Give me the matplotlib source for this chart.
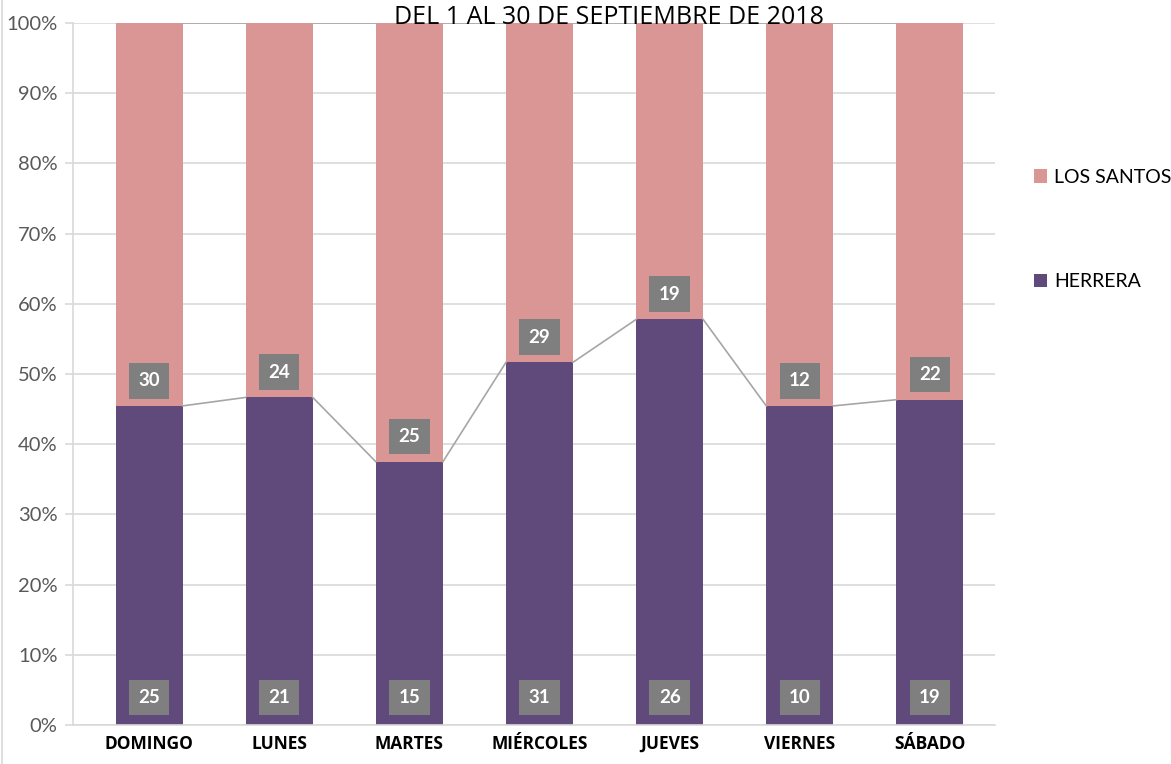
import numpy as np
import matplotlib.pyplot as plt
from matplotlib.patches import Patch

plt.rcParams['font.family'] = ['Lato', 'DejaVu Sans']

# Data
dias = ['DOMINGO', 'LUNES', 'MARTES', 'MIÉRCOLES', 'JUEVES', 'VIERNES', 'SÁBADO']
herrera = [25, 21, 15, 31, 26, 10, 19]
los_santos = [30, 24, 25, 29, 19, 12, 22]
title = 'DEL 1 AL 30 DE SEPTIEMBRE DE 2018'

col_herrera = '#604A7B'
col_santos = '#D99694'
col_label = '#7F7F7F'
col_grid = '#D9D9D9'
col_series = '#A6A6A6'

h = np.array(herrera, dtype=float)
s = np.array(los_santos, dtype=float)
tot = h + s
h_pct = h / tot * 100
s_pct = s / tot * 100

fig = plt.figure(figsize=(11.71, 7.64), dpi=100)
ax = fig.add_axes([73 / 1171, 1 - 725 / 764, (995 - 73) / 1171, (725 - 23) / 764])

x = np.arange(len(dias))
width = 0.515
ax.bar(x, h_pct, width, color=col_herrera, zorder=2)
ax.bar(x, s_pct, width, bottom=h_pct, color=col_santos, zorder=2)

# series lines between bar edges
for i in range(len(dias) - 1):
    ax.plot([x[i] + width / 2, x[i + 1] - width / 2], [h_pct[i], h_pct[i + 1]],
            color=col_series, lw=1.2, zorder=3)
    ax.plot([x[i] + width / 2, x[i + 1] - width / 2], [100, 100],
            color=col_series, lw=1.2, zorder=3)

# data labels
box = dict(boxstyle='square,pad=0.5', facecolor=col_label, edgecolor='none')
for i in range(len(dias)):
    ax.text(x[i], 3.9, str(herrera[i]), ha='center', va='center', color='white',
            fontsize=13.5, fontweight='bold', bbox=box, zorder=4)
    ax.text(x[i], h_pct[i] + 3.6, str(los_santos[i]), ha='center', va='center',
            color='white', fontsize=13.5, fontweight='bold', bbox=box, zorder=4)

ax.set_xlim(-(149 - 73) / 130, 6 + (995 - 930) / 130)
ax.set_ylim(0, 100)
ax.set_yticks(np.arange(0, 101, 10))
ax.set_yticklabels([f'{v}%' for v in range(0, 101, 10)])
ax.yaxis.grid(True, color=col_grid, lw=1.2, zorder=0)
ax.tick_params(axis='y', length=6, width=1.2, color=col_grid, labelsize=14.5,
               labelcolor='#595959', pad=5)
ax.set_xticks(x)
ax.set_xticklabels(dias, fontsize=12.5, fontweight='bold', color='black',
                   family=['Open Sans', 'DejaVu Sans'])
ax.tick_params(axis='x', length=0, pad=7)
for sp in ['top', 'right']:
    ax.spines[sp].set_visible(False)
ax.spines['left'].set_color(col_grid)
ax.spines['left'].set_linewidth(1.2)
ax.spines['bottom'].set_color(col_grid)
ax.spines['bottom'].set_linewidth(1.2)

fig.text(609 / 1171, 1 - 17 / 764, title, ha='center', va='center',
         fontsize=18, color='black', family=['Open Sans', 'DejaVu Sans'])

handles = [Patch(facecolor=col_santos, label='LOS SANTOS'),
           Patch(facecolor=col_herrera, label='HERRERA')]
fig.legend(handles=handles, loc='upper left',
           bbox_to_anchor=(1024 / 1171, 1 - 159 / 764), frameon=False,
           fontsize=14, handlelength=0.7, handleheight=0.7,
           handletextpad=0.35, labelspacing=4.5, borderpad=0)

# chart frame at left edge
fig.add_artist(plt.Line2D([2 / 1171, 2 / 1171], [0, 1], color=col_grid, lw=1.2))

fig.savefig('out.png', dpi=100)
